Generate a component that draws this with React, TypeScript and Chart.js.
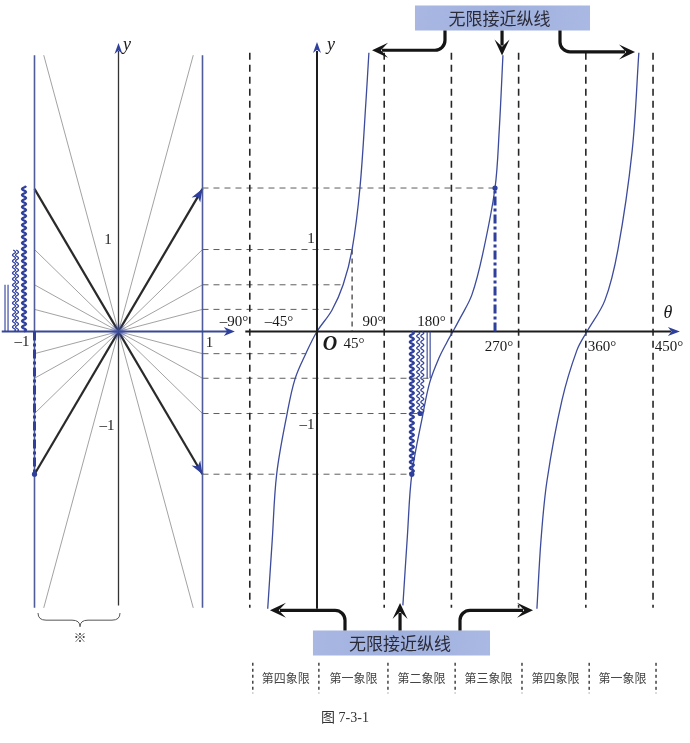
import React, { useEffect, useRef } from "react";
import { Chart, registerables } from "chart.js";

Chart.register(...registerables);

const CANVAS_W = 690;
const CANVAS_H = 743;

// scale ranges: θ (degrees) for the tangent graph, u for the left line diagram, v for values
const thetaMin = -424.5;
const thetaMax = 499.5;
const uMin = -1.4107;
const uMax = 6.8036;
const vMin = -5.018;
const vMax = 4.043;

// tangent branches
const branchATheta = [-66, -60, -54, -40, -29.5, -15, 0, 20, 35, 47, 57.5, 65.5, 69.5];
const branchAY = [-3.38, -2.55, -1.74, -1.0, -0.58, -0.27, 0, 0.26, 0.57, 1.0, 1.75, 2.8, 3.4];
const branchBTheta = [115, 121, 127, 142, 151, 163, 174, 182, 191.5, 207.5, 222, 238.4, 244, 249];
const branchBY = [-3.34, -2.5, -1.74, -1.0, -0.62, -0.33, -0.13, 0, 0.16, 0.45, 0.95, 1.75, 2.45, 3.37];
const branchCTheta = [294.5, 300, 308, 328, 348, 361.5, 385.5, 403, 422, 431];
const branchCY = [-3.38, -2.54, -1.82, -0.84, -0.23, 0, 0.38, 1.0, 2.2, 3.4];

// vertical asymptotes / grid lines (degrees)
const asymptoteTheta = [-90, 90, 180, 270, 360, 450];
const asymTop = 3.4;
const asymBottom = -3.37;

// horizontal reference lines (value) and the θ where each one stops
const refY = [1.75, 1.0, 0.57, 0.27, -0.27, -0.57, -1.0, -1.74];
const refEndTheta = [238.4, 47, 35, 20, -15, 152, 142, 127];

// rays of the left diagram: end point (u, v) on the right side
const rayEndU = [1, 1, 1, 1, 0.89];
const rayEndV = [0.27, 0.57, 1.0, 1.74, 3.37];
const thickRay = 3;

// markers: left (u) and right (θ)
const leftMarkU = [-1.125, -1.208, -1.244, -1.315, -1.351];
const leftMarkV = [1.78, 1.0, 1.0, 0.57, 0.57];
const rightMarkTheta = [127, 135.5, 141, 147.5, 151.5];
const rightMarkV = [-1.74, -1.0, -1.0, -0.57, -0.57];
const markKind = ["waveThick", "wave", "wave", "line", "line"];

// quadrant strip
const quadrantDividers = [-86, 2.5, 95, 185, 274.5, 364.5, 454];
const quadrantNames = ["第四象限", "第一象限", "第二象限", "第三象限", "第四象限", "第一象限"];

// text labels on the θ graph: [text, θ, v]
const thetaLabels: [string, number, number][] = [
  ["–90°", -111.2, 0.116],
  ["–45°", -50.9, 0.116],
  ["90°", 75, 0.116],
  ["180°", 153.5, 0.116],
  ["45°", 49.6, -0.15],
  ["270°", 243.7, -0.19],
  ["360°", 381.7, -0.19],
  ["450°", 471.4, -0.19],
  ["1", -8, 1.128],
  ["–1", -13.4, -1.14],
];
const leftLabels: [string, number, number][] = [
  ["–1", -1.149, -0.128],
  ["1", 1.083, -0.14],
  ["1", -0.125, 1.116],
  ["–1", -0.137, -1.152],
];

const banners = [
  { t0: 131.2, t1: 365.6, v0: 3.976, v1: 3.671, tc: 244.5, vc: 3.82 },
  { t0: -5.4, t1: 231.7, v0: -3.646, v1: -3.951, tc: 111.2, vc: -3.8 },
];
const bannerText = "无限接近纵线";

const arrowPaths: [number, number][][] = [
  [[171.4, 3.67], [171.4, 3.43], [73.7, 3.43]],
  [[247.8, 3.67], [247.8, 3.366]],
  [[325.4, 3.67], [325.4, 3.41], [425.9, 3.41]],
  [[37.5, -3.646], [37.5, -3.4], [-63, -3.4]],
  [[111.2, -3.646], [111.2, -3.31]],
  [[191.5, -3.646], [191.5, -3.4], [289.3, -3.4]],
];

const pts = (xs: number[], ys: number[]) => xs.map((x, i) => ({ x, y: ys[i] }));
const seg = (x0: number, y0: number, x1: number, y1: number) => [
  { x: x0, y: y0 },
  { x: x1, y: y1 },
];

function arrowHead(ctx: CanvasRenderingContext2D, tx: number, ty: number, fx: number, fy: number, len: number, w: number, notch: number, color: string) {
  const a = Math.atan2(ty - fy, tx - fx);
  const dx = Math.cos(a), dy = Math.sin(a);
  const px = -dy, py = dx;
  ctx.beginPath();
  ctx.moveTo(tx, ty);
  ctx.lineTo(tx - dx * len + px * w, ty - dy * len + py * w);
  ctx.lineTo(tx - dx * len * notch, ty - dy * len * notch);
  ctx.lineTo(tx - dx * len - px * w, ty - dy * len - py * w);
  ctx.closePath();
  ctx.fillStyle = color;
  ctx.fill();
}

function wavy(ctx: CanvasRenderingContext2D, x: number, y0: number, y1: number, amp: number, period: number) {
  const len = Math.abs(y1 - y0);
  const dir = Math.sign(y1 - y0);
  ctx.beginPath();
  for (let t = 0; t <= len; t += 0.5) {
    const xx = x + amp * Math.sin((t / period) * 2 * Math.PI);
    const yy = y0 + dir * t;
    if (t === 0) ctx.moveTo(xx, yy);
    else ctx.lineTo(xx, yy);
  }
  ctx.stroke();
}

const diagramPlugin = {
  id: "tanDiagram",
  beforeDatasetsDraw(chart: any) {
    const ctx: CanvasRenderingContext2D = chart.ctx;
    const X = (t: number) => chart.scales.x.getPixelForValue(t);
    const U = (u: number) => chart.scales.x2.getPixelForValue(u);
    const V = (v: number) => chart.scales.y.getPixelForValue(v);
    ctx.save();
    ctx.strokeStyle = "#5e5e5e";
    ctx.lineWidth = 1;
    ctx.setLineDash([6, 5]);
    refY.forEach((v, i) => {
      ctx.beginPath();
      ctx.moveTo(U(1), V(v));
      ctx.lineTo(X(refEndTheta[i]), V(v));
      ctx.stroke();
    });
    ctx.restore();
  },
  afterDatasetsDraw(chart: any) {
    const ctx: CanvasRenderingContext2D = chart.ctx;
    const X = (t: number) => chart.scales.x.getPixelForValue(t);
    const U = (u: number) => chart.scales.x2.getPixelForValue(u);
    const V = (v: number) => chart.scales.y.getPixelForValue(v);
    const blue = "#2f3f9c";
    ctx.save();

    // axes
    ctx.setLineDash([]);
    ctx.strokeStyle = "#3a4896";
    ctx.lineWidth = 2;
    ctx.beginPath();
    ctx.moveTo(U(-1.39), V(0));
    ctx.lineTo(U(1.32), V(0));
    ctx.stroke();
    arrowHead(ctx, U(1.385), V(0), U(0), V(0), 11, 4.5, 0.7, blue);
    ctx.strokeStyle = "#333";
    ctx.lineWidth = 1.3;
    ctx.beginPath();
    ctx.moveTo(U(0), V(-3.34));
    ctx.lineTo(U(0), V(3.42));
    ctx.stroke();
    arrowHead(ctx, U(0), V(3.52), U(0), V(0), 11, 4, 0.7, blue);
    ctx.strokeStyle = "#1c1c1c";
    ctx.lineWidth = 2;
    ctx.beginPath();
    ctx.moveTo(X(-96), V(0));
    ctx.lineTo(X(474), V(0));
    ctx.stroke();
    arrowHead(ctx, X(486), V(0), X(0), V(0), 12, 4.5, 0.7, blue);
    ctx.beginPath();
    ctx.moveTo(X(0), V(-3.38));
    ctx.lineTo(X(0), V(3.42));
    ctx.stroke();
    arrowHead(ctx, X(0), V(3.53), X(0), V(0), 11, 4, 0.7, blue);

    // arrowheads on the thick rays
    const ue = rayEndU[thickRay], ve = rayEndV[thickRay];
    arrowHead(ctx, U(ue), V(ve), U(0), V(0), 13, 5, 0.7, blue);
    arrowHead(ctx, U(ue), V(-ve), U(0), V(0), 13, 5, 0.7, blue);

    // origin glow of the left diagram
    const g = ctx.createRadialGradient(U(0), V(0), 0, U(0), V(0), 9);
    g.addColorStop(0, "rgba(60,80,180,0.8)");
    g.addColorStop(1, "rgba(60,80,180,0)");
    ctx.fillStyle = g;
    ctx.beginPath();
    ctx.arc(U(0), V(0), 9, 0, Math.PI * 2);
    ctx.fill();

    // dash-dot emphasis lines
    ctx.strokeStyle = blue;
    ctx.lineWidth = 3;
    ctx.setLineDash([9, 3, 3, 3]);
    ctx.beginPath();
    ctx.moveTo(U(-1), V(0));
    ctx.lineTo(U(-1), V(-1.74));
    ctx.stroke();
    ctx.beginPath();
    ctx.moveTo(X(238.4), V(0));
    ctx.lineTo(X(238.4), V(1.75));
    ctx.stroke();
    ctx.setLineDash([]);
    ctx.fillStyle = blue;
    [[U(-1), V(-1.74)], [X(238.4), V(1.75)], [X(rightMarkTheta[0]), V(rightMarkV[0])], [X(rightMarkTheta[1]) + 2, V(rightMarkV[1])]].forEach(([x, y]) => {
      ctx.beginPath();
      ctx.arc(x, y, 2.6, 0, Math.PI * 2);
      ctx.fill();
    });

    // wavy / straight length markers
    ctx.strokeStyle = blue;
    markKind.forEach((k, i) => {
      const lx = U(leftMarkU[i]);
      const rx = X(rightMarkTheta[i]);
      if (k === "line") {
        ctx.lineWidth = 1.1;
        ctx.beginPath();
        ctx.moveTo(lx, V(0));
        ctx.lineTo(lx, V(leftMarkV[i]));
        ctx.moveTo(rx, V(0));
        ctx.lineTo(rx, V(rightMarkV[i]));
        ctx.stroke();
      } else {
        const thick = k === "waveThick";
        ctx.lineWidth = thick ? 2.2 : 1.2;
        wavy(ctx, lx, V(0), V(leftMarkV[i]), thick ? 2 : 1.5, 6);
        wavy(ctx, rx, V(0), V(rightMarkV[i]), thick ? 2 : 1.5, 6);
      }
    });

    // brace under left diagram
    ctx.strokeStyle = "#555";
    ctx.lineWidth = 1;
    const bx0 = U(-0.958), bx1 = U(0.018), bm = U(-0.458);
    const by0 = V(-3.433), by1 = V(-3.52), by2 = V(-3.6);
    ctx.beginPath();
    ctx.moveTo(bx0, by0);
    ctx.quadraticCurveTo(bx0, by1, bx0 + 8, by1);
    ctx.lineTo(bm - 8, by1);
    ctx.quadraticCurveTo(bm, by1, bm, by2);
    ctx.quadraticCurveTo(bm, by1, bm + 8, by1);
    ctx.lineTo(bx1 - 8, by1);
    ctx.quadraticCurveTo(bx1, by1, bx1, by0);
    ctx.stroke();

    // labels
    ctx.fillStyle = "#1a1a1a";
    ctx.textAlign = "center";
    ctx.textBaseline = "middle";
    ctx.font = '15px "Liberation Serif", "DejaVu Serif", serif';
    thetaLabels.forEach(([s, t, v]) => ctx.fillText(s, X(t), V(v)));
    leftLabels.forEach(([s, u, v]) => ctx.fillText(s, U(u), V(v)));
    ctx.font = 'italic bold 20px "Liberation Serif", serif';
    ctx.fillText("O", X(17.4), V(-0.16));
    ctx.font = 'italic 18px "Liberation Serif", serif';
    ctx.fillText("θ", X(470.1), V(0.22));
    ctx.fillText("y", U(0.101), V(3.49));
    ctx.fillText("y", X(18.7), V(3.49));
    ctx.font = '13px "Noto Sans CJK SC", sans-serif';
    ctx.fillStyle = "#444";
    ctx.fillText("※", U(-0.458), V(-3.72));

    // banners
    banners.forEach((b) => {
      const x0 = X(b.t0), x1 = X(b.t1), y0 = V(b.v0), y1 = V(b.v1);
      const grd = ctx.createLinearGradient(x0, y0, x1, y1);
      grd.addColorStop(0, "#a9b7e2");
      grd.addColorStop(0.5, "#9fb0de");
      grd.addColorStop(1, "#aab9e3");
      ctx.fillStyle = grd;
      ctx.fillRect(x0, y0, x1 - x0, y1 - y0);
      ctx.fillStyle = "#2b2b38";
      ctx.font = '17px "Noto Sans CJK SC", sans-serif';
      ctx.fillText(bannerText, X(b.tc), V(b.vc));
    });

    // black pointer arrows
    arrowPaths.forEach((p) => {
      const P = p.map(([t, v]) => [X(t), V(v)]);
      const n = P.length;
      const [tx, ty] = P[n - 1];
      const [fx, fy] = P[n - 2];
      const a = Math.atan2(ty - fy, tx - fx);
      const ex = tx - Math.cos(a) * 10, ey = ty - Math.sin(a) * 10;
      ctx.strokeStyle = "#151515";
      ctx.lineWidth = 3.2;
      ctx.beginPath();
      ctx.moveTo(P[0][0], P[0][1]);
      for (let i = 1; i < n - 1; i++) ctx.arcTo(P[i][0], P[i][1], P[i + 1][0], P[i + 1][1], 10);
      ctx.lineTo(ex, ey);
      ctx.stroke();
      arrowHead(ctx, tx, ty, fx, fy, 16, 7.5, 0.55, "#151515");
    });

    // quadrant strip
    ctx.strokeStyle = "#444";
    ctx.lineWidth = 1.5;
    ctx.setLineDash([3, 3]);
    quadrantDividers.forEach((t) => {
      ctx.beginPath();
      ctx.moveTo(X(t), V(-4.04));
      ctx.lineTo(X(t), V(-4.41));
      ctx.stroke();
    });
    ctx.setLineDash([]);
    ctx.fillStyle = "#444";
    ctx.font = '12px "Noto Sans CJK SC", sans-serif';
    quadrantNames.forEach((s, i) => {
      ctx.fillText(s, (X(quadrantDividers[i]) + X(quadrantDividers[i + 1])) / 2, V(-4.226));
    });

    // caption
    ctx.fillStyle = "#333";
    ctx.font = '14px "Liberation Serif", "Noto Sans CJK SC", serif';
    ctx.fillText("图 7-3-1", X(37.5), V(-4.72));

    ctx.restore();
  },
};

export default function App() {
  const ref = useRef<HTMLCanvasElement | null>(null);

  useEffect(() => {
    if (!ref.current) return;
    const ds: any[] = [];
    const curve = {
      showLine: true,
      pointRadius: 0,
      borderColor: "#3c4b9b",
      borderWidth: 1.3,
      tension: 0.35,
      xAxisID: "x",
      yAxisID: "y",
    };
    ds.push({ ...curve, data: pts(branchATheta, branchAY) });
    ds.push({ ...curve, data: pts(branchBTheta, branchBY) });
    ds.push({ ...curve, data: pts(branchCTheta, branchCY) });

    asymptoteTheta.forEach((t) =>
      ds.push({
        showLine: true,
        pointRadius: 0,
        borderColor: "#262626",
        borderWidth: 1.6,
        borderDash: [7, 5],
        xAxisID: "x",
        yAxisID: "y",
        data: seg(t, asymTop, t, asymBottom),
      })
    );
    ds.push({
      showLine: true,
      pointRadius: 0,
      borderColor: "#333",
      borderWidth: 1.2,
      borderDash: [5, 4],
      xAxisID: "x",
      yAxisID: "y",
      data: seg(refEndTheta[1], refY[1], refEndTheta[1], 0),
    });

    [-1, 1].forEach((u) =>
      ds.push({
        showLine: true,
        pointRadius: 0,
        borderColor: "#4f5c98",
        borderWidth: 1.6,
        xAxisID: "x2",
        yAxisID: "y",
        data: seg(u, 3.37, u, -3.37),
      })
    );

    rayEndU.forEach((ue, i) => {
      const ve = rayEndV[i];
      const thick = i === thickRay;
      const style = {
        showLine: true,
        pointRadius: 0,
        borderColor: thick ? "#2a2a2a" : "#8a8a8a",
        borderWidth: thick ? 2.2 : 0.8,
        xAxisID: "x2",
        yAxisID: "y",
      };
      ds.push({ ...style, data: seg(-ue, -ve, ue, ve) });
      ds.push({ ...style, data: seg(-ue, ve, ue, -ve) });
    });

    const chart = new Chart(ref.current, {
      type: "scatter",
      data: { datasets: ds },
      options: {
        responsive: false,
        animation: false,
        events: [],
        layout: { padding: 0 },
        plugins: { legend: { display: false }, tooltip: { enabled: false } },
        scales: {
          x: { type: "linear", min: thetaMin, max: thetaMax, display: false },
          x2: { type: "linear", axis: "x", min: uMin, max: uMax, display: false },
          y: { type: "linear", min: vMin, max: vMax, display: false },
        },
      } as any,
      plugins: [diagramPlugin as any],
    });
    return () => chart.destroy();
  }, []);

  return (
    <div style={{ position: "absolute", left: 0, top: 0, width: CANVAS_W, height: CANVAS_H, background: "#fff" }}>
      <canvas ref={ref} width={CANVAS_W} height={CANVAS_H} style={{ display: "block", width: CANVAS_W, height: CANVAS_H }} />
    </div>
  );
}
